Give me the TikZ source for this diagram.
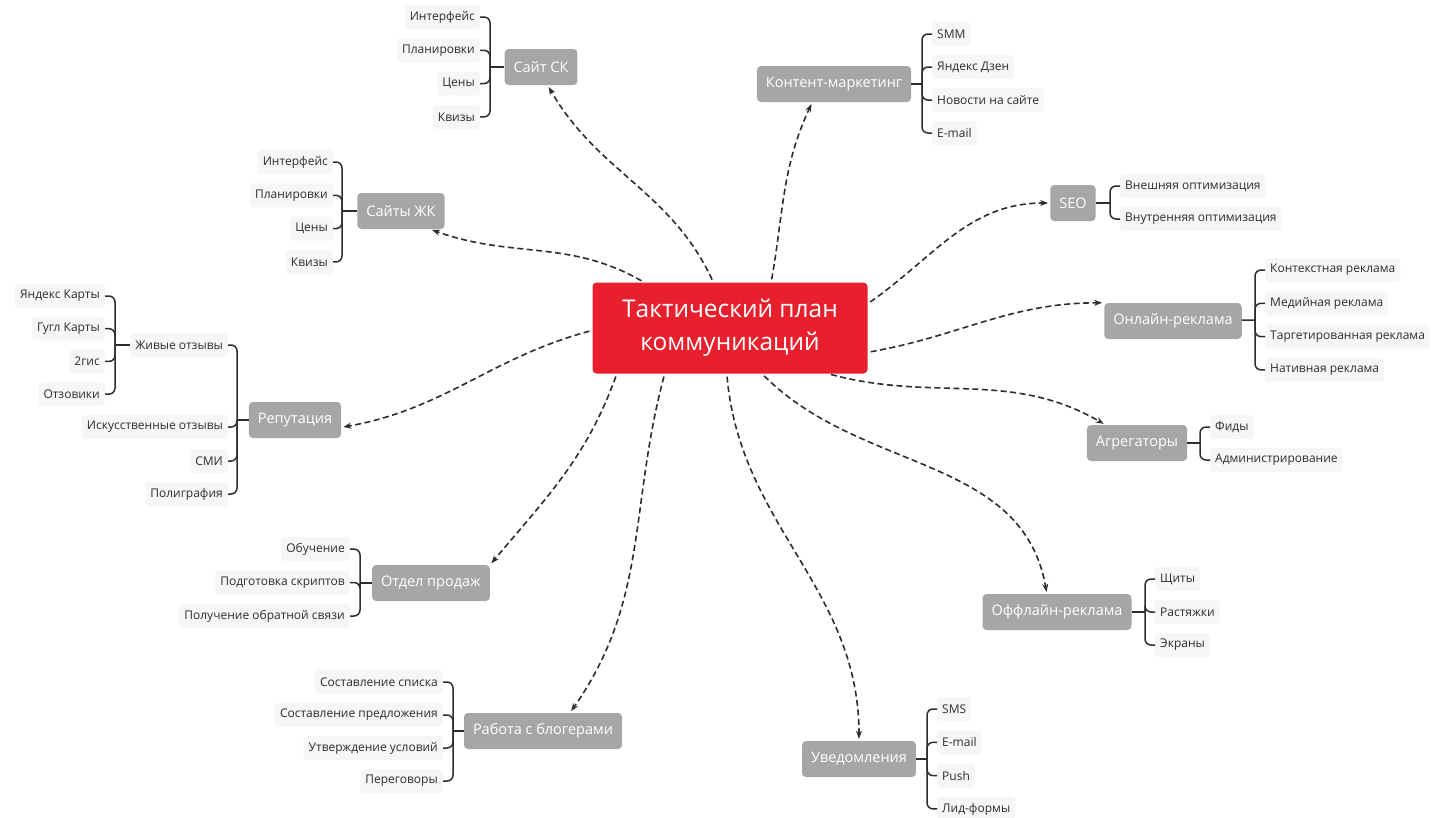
\documentclass[tikz,border=0pt]{standalone}
\usepackage{fontspec}
\setmainfont{Open Sans}
\usetikzlibrary{arrows.meta}
\definecolor{planred}{RGB}{232,32,46}
\definecolor{topicgray}{RGB}{166,166,166}
\definecolor{leafbg}{RGB}{246,246,246}
\definecolor{ink}{RGB}{45,45,45}

\begin{document}
\begin{tikzpicture}[x=1pt, y=1pt,
  root/.style={rectangle, fill=planred, rounded corners=4pt, text=white,
               font=\fontsize{24.5}{33}\selectfont, align=center,
               minimum width=275pt, minimum height=91pt},
  topic/.style={rectangle, fill=topicgray, rounded corners=4pt, text=white,
                font=\fontsize{14.5}{16}\selectfont, minimum height=36pt, inner xsep=9pt},
  leaf/.style={rectangle, fill=leafbg, rounded corners=3pt, text=ink,
               font=\fontsize{12}{14}\selectfont, minimum height=24pt, inner xsep=5pt},
  link/.style={-{Stealth[length=8pt, width=6pt]}, draw=ink, line width=1.6pt,
               dash pattern=on 6pt off 3.5pt, shorten <=3pt, shorten >=2pt},
  brace/.style={draw=ink, line width=1.5pt, rounded corners=6pt}
]
\useasboundingbox (0,0) rectangle (1432,-817);
% ── Centre ───────────────────────────
\node[root] (plan) at (730,-328) {Тактический план\\коммуникаций};
% ── Topics ───────────────────────────
\node[topic] (sk)    at (541,-67)   {Сайт СК};
\node[topic] (cm)    at (834,-84)   {Контент-маркетинг};
\node[topic] (zk)    at (401,-211)  {Сайты ЖК};
\node[topic] (seo)   at (1073,-203) {SEO};
\node[topic] (onl)   at (1173,-321) {Онлайн-реклама};
\node[topic] (rep)   at (295,-420)  {Репутация};
\node[topic] (agr)   at (1137,-443) {Агрегаторы};
\node[topic] (sales) at (431,-583)  {Отдел продаж};
\node[topic] (offl)  at (1057,-612) {Оффлайн-реклама};
\node[topic] (blog)  at (543,-731)  {Работа с блогерами};
\node[topic] (notif) at (859,-759)  {Уведомления};
% ── Сайт СК ──────────────────────────
\coordinate (skb) at (490,-67);
\draw[brace] (sk) -- (skb);
\foreach \t [count=\i] in {Интерфейс, Планировки, Цены, Квизы} {
  \node[leaf, anchor=east] (sk\i) at (480, {-17-33.3*(\i-1)}) {\t};
  \draw[brace] (skb) |- (sk\i.east);
}
% ── Контент-маркетинг ────────────────
\coordinate (cmb) at (922,-84);
\draw[brace] (cm) -- (cmb);
\foreach \t [count=\i] in {SMM, Яндекс Дзен, Новости на сайте, E-mail} {
  \node[leaf, anchor=west] (cm\i) at (932, {-34-33*(\i-1)}) {\t};
  \draw[brace] (cmb) |- (cm\i.west);
}
% ── Сайты ЖК ─────────────────────────
\coordinate (zkb) at (342,-211);
\draw[brace] (zk) -- (zkb);
\foreach \t [count=\i] in {Интерфейс, Планировки, Цены, Квизы} {
  \node[leaf, anchor=east] (zk\i) at (333, {-162-33.3*(\i-1)}) {\t};
  \draw[brace] (zkb) |- (zk\i.east);
}
% ── SEO ──────────────────────────────
\coordinate (seob) at (1110,-203);
\draw[brace] (seo) -- (seob);
\foreach \t [count=\i] in {Внешняя оптимизация, Внутренняя оптимизация} {
  \node[leaf, anchor=west] (seo\i) at (1120, {-186-33*(\i-1)}) {\t};
  \draw[brace] (seob) |- (seo\i.west);
}
% ── Онлайн-реклама ───────────────────
\coordinate (onlb) at (1255,-320);
\draw[brace] (onl) -- (onlb);
\foreach \t [count=\i] in {Контекстная реклама, Медийная реклама,
                          Таргетированная реклама, Нативная реклама} {
  \node[leaf, anchor=west] (onl\i) at (1265, {-270-33.3*(\i-1)}) {\t};
  \draw[brace] (onlb) |- (onl\i.west);
}
% ── Репутация ────────────────────────
\coordinate (repb) at (237,-420);
\draw[brace] (rep) -- (repb);
\foreach \t/\y [count=\i] in {Живые отзывы/345, Искусственные отзывы/427,
                             СМИ/461, Полиграфия/494} {
  \node[leaf, anchor=east] (rep\i) at (228,-\y) {\t};
  \draw[brace] (repb) |- (rep\i.east);
}
\coordinate (livb) at (115,-345);
\draw[brace] (rep1) -- (livb);
\foreach \t [count=\i] in {Яндекс Карты, Гугл Карты, 2гис, Отзовики} {
  \node[leaf, anchor=east] (liv\i) at (105, {-296-32.7*(\i-1)}) {\t};
  \draw[brace] (livb) |- (liv\i.east);
}
% ── Агрегаторы ───────────────────────
\coordinate (agrb) at (1200,-443);
\draw[brace] (agr) -- (agrb);
\foreach \t [count=\i] in {Фиды, Администрирование} {
  \node[leaf, anchor=west] (agr\i) at (1210, {-427-33*(\i-1)}) {\t};
  \draw[brace] (agrb) |- (agr\i.west);
}
% ── Отдел продаж ─────────────────────
\coordinate (salesb) at (360,-583);
\draw[brace] (sales) -- (salesb);
\foreach \t [count=\i] in {Обучение, Подготовка скриптов, Получение обратной связи} {
  \node[leaf, anchor=east] (sales\i) at (350, {-549-33.5*(\i-1)}) {\t};
  \draw[brace] (salesb) |- (sales\i.east);
}
% ── Оффлайн-реклама ──────────────────
\coordinate (offlb) at (1145,-612);
\draw[brace] (offl) -- (offlb);
\foreach \t [count=\i] in {Щиты, Растяжки, Экраны} {
  \node[leaf, anchor=west] (offl\i) at (1155, {-579-33*(\i-1)}) {\t};
  \draw[brace] (offlb) |- (offl\i.west);
}
% ── Работа с блогерами ───────────────
\coordinate (blogb) at (453,-731);
\draw[brace] (blog) -- (blogb);
\foreach \t [count=\i] in {Составление списка, Составление предложения,
                          Утверждение условий, Переговоры} {
  \node[leaf, anchor=east] (blog\i) at (443, {-682-33*(\i-1)}) {\t};
  \draw[brace] (blogb) |- (blog\i.east);
}
% ── Уведомления ──────────────────────
\coordinate (notifb) at (927,-759);
\draw[brace] (notif) -- (notifb);
\foreach \t [count=\i] in {SMS, E-mail, Push, Лид-формы} {
  \node[leaf, anchor=west] (notif\i) at (937, {-709-33.3*(\i-1)}) {\t};
  \draw[brace] (notifb) |- (notif\i.west);
}
% ── Links ────────────────────────────
\foreach \s/\e/\o/\n in {110/sk.290/115/-60, 48/cm.220/80/-115,
    152/zk.328/150/-20, 10/seo.west/35/180, 350/onl.north west/10/180,
    181/rep.351/195/10, 335/agr.150/-15/150, 202/sales.north east/250/50,
    305/offl.119/-45/100, 215/blog.34/-105/55, 266/notif.north/-85/90}
  \draw[link] (plan.\s) to[out=\o, in=\n] (\e);
\end{tikzpicture}
\end{document}
